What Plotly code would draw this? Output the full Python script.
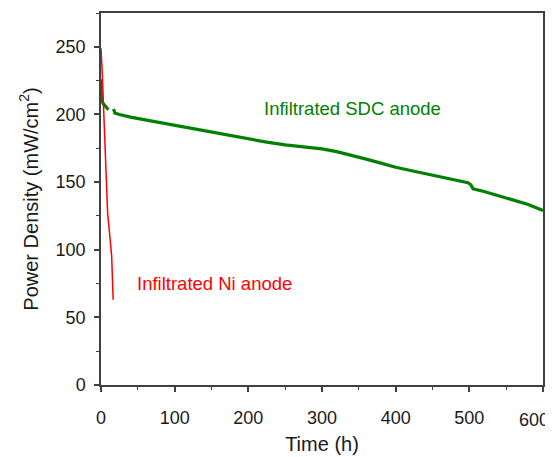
import plotly.graph_objects as go

# Infiltrated SDC anode (green)
sdc_time = [0, 0.5, 3, 6, 10, None, 17, 19, 25, 40, 60, 80, 100, 120, 150, 175, 200, 225,
            250, 275, 300, 320, 340, 360, 380, 400, 425, 450, 475, 498, 502, 505, 520,
            540, 560, 580, 600]
sdc_power = [226, 211, 208, 206, 203.5, None, 204, 201, 200, 198, 196, 194, 192, 190, 187,
             184, 181.5, 179.5, 177.5, 176, 174.5, 172.5, 170, 167, 164, 161, 158, 155,
             152, 149.5, 148, 145, 143, 140, 137, 133.5, 129]

# Infiltrated Ni anode (red)
ni_time = [0, 1.5, 5, 9, 12, 14.5, 16.5]
ni_power = [249, 233, 184, 127, 110, 95, 63]

x_ticks = [0, 100, 200, 300, 400, 500, 600]
y_ticks = [0, 50, 100, 150, 200, 250]

GREEN = "#008000"
RED = "#ff0000"
AXIS = "#404040"
TXT = "#1a1a1a"
FONT = "Liberation Sans, Arial, sans-serif"

# the last x label sits flush with the right edge in the reference,
# so it is drawn as a right-anchored annotation instead of a centred tick label
x_text = [str(v) for v in x_ticks]
last_label = x_text[-1]
x_text[-1] = ""

fig = go.Figure()
fig.add_trace(go.Scatter(x=sdc_time, y=sdc_power, mode="lines",
                         line=dict(color=GREEN, width=3.2), connectgaps=False,
                         showlegend=False))
fig.add_trace(go.Scatter(x=ni_time, y=ni_power, mode="lines",
                         line=dict(color=RED, width=1.5), showlegend=False))

fig.add_annotation(x=342, y=204.5, xref="x", yref="y",
                   text="Infiltrated SDC anode", showarrow=False,
                   font=dict(family=FONT, size=18.5, color=GREEN))
fig.add_annotation(x=154, y=75, xref="x", yref="y",
                   text="Infiltrated Ni anode", showarrow=False,
                   font=dict(family=FONT, size=18.5, color=RED))
fig.add_annotation(x=x_ticks[-1], y=0, xref="x", yref="paper",
                   text=last_label, showarrow=False, xanchor="right", yanchor="top",
                   xshift=8, yshift=-23,
                   font=dict(family=FONT, size=18, color=TXT))

# page body has an 8px margin; size/margins compensate for it
fig.update_layout(
    width=545, height=449,
    margin=dict(l=93, r=10, t=5, b=72),
    paper_bgcolor="white", plot_bgcolor="white",
    font=dict(family=FONT, color=TXT),
)
fig.update_xaxes(
    range=[0, 600], tickvals=x_ticks, ticktext=x_text,
    showgrid=False, zeroline=False, automargin=False,
    showline=True, linecolor=AXIS, linewidth=1.5, mirror=True,
    ticks="outside", ticklen=5, tickwidth=1.5, tickcolor=AXIS,
    minor=dict(dtick=50, ticks="outside", ticklen=3, tickcolor=AXIS, tickwidth=1),
    tickfont=dict(family=FONT, size=18, color=TXT),
    ticklabelstandoff=11,
    title=dict(text="Time (h)", font=dict(family=FONT, size=20, color=TXT), standoff=10),
)
fig.update_yaxes(
    range=[0, 275], tickvals=y_ticks, ticktext=[str(v) for v in y_ticks],
    showgrid=False, zeroline=False,
    showline=True, linecolor=AXIS, linewidth=1.5, mirror=True,
    ticks="outside", ticklen=5, tickwidth=1.5, tickcolor=AXIS,
    minor=dict(dtick=25, ticks="outside", ticklen=3, tickcolor=AXIS, tickwidth=1),
    tickfont=dict(family=FONT, size=18, color=TXT),
    ticklabelstandoff=5,
    title=dict(text="Power Density (mW/cm<sup>2</sup>)",
               font=dict(family=FONT, size=20, color=TXT), standoff=12),
)

fig.write_html("out.html")
